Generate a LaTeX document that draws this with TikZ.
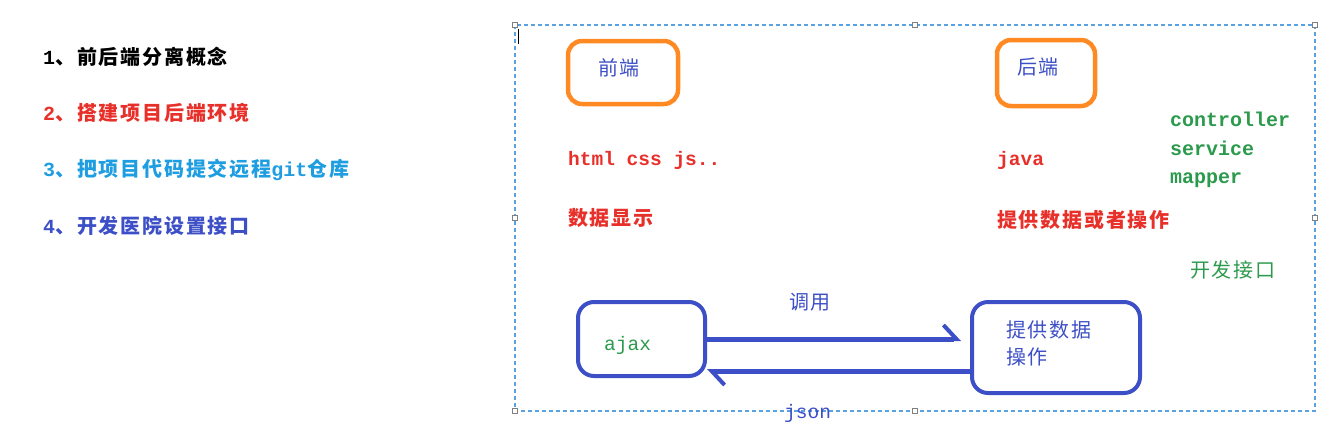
\documentclass[tikz,border=0pt]{standalone}
\usepackage{fontspec}
\setmainfont{Liberation Mono}
\newfontfamily\cjk{Noto Sans CJK SC}[LetterSpace=9]
\usetikzlibrary{arrows.meta, positioning, calc}
\definecolor{itemred}{HTML}{E8302A}
\definecolor{itemcyan}{HTML}{1E9EE0}
\definecolor{itemblue}{HTML}{3D4FC6}
\definecolor{boxorange}{HTML}{FF8A24}
\definecolor{txtgreen}{HTML}{2C9A4C}
\definecolor{framecol}{HTML}{5AA2E2}

\begin{document}
\begin{tikzpicture}[x=1pt, y=-1pt,
	item/.style={anchor=west, inner sep=0pt, font=\cjk\bfseries\fontsize{20}{24}\selectfont},
	zh/.style={anchor=west, inner sep=0pt, font=\cjk\fontsize{20}{27}\selectfont},
	code/.style={anchor=west, inner sep=0pt, font=\bfseries\fontsize{19.5}{24}\selectfont},
	obox/.style={draw=boxorange, line width=4.5pt, rounded corners=14pt},
	bbox/.style={draw=itemblue, line width=4pt, rounded corners=16pt},
	flow/.style={draw=itemblue, line width=5pt, -{Straight Barb[harpoon, length=13pt, width=28pt, line width=4pt]}},
	handle/.style={draw=gray, fill=white, line width=0.6pt, minimum size=5pt, inner sep=0pt}]
	\useasboundingbox (0,0) rectangle (1331,424);

	% task list
	\node[item] (t1) at (43,57) {{\rmfamily 1}、前后端分离概念};
	\node[item, itemred] (t2) at (43,113) {{\rmfamily 2}、搭建项目后端环境};
	\node[item, itemcyan] (t3) at (43,170) {{\rmfamily 3}、把项目代码提交远程{\rmfamily git}仓库};
	\node[item, itemblue] (t4) at (43,226) {{\rmfamily 4}、开发医院设置接口};

	% selection frame
	\draw[framecol, line width=1.2pt, dash pattern=on 4pt off 3pt] (515,25) rectangle (1315,411);
	\foreach \hx/\hy in {515/25, 915/25, 1315/25, 515/218, 1315/218, 515/411, 915/411}
		\node[handle] at (\hx,\hy) {};
	\draw[black, line width=1pt] (518,29) -- (518,44);

	% front end / back end
	\node[obox, minimum width=110pt, minimum height=63pt] (front) at (623,72.5) {};
	\node[zh, itemblue] (fronttxt) at (598,68) {前端};
	\node[obox, minimum width=98pt, minimum height=66pt] (back) at (1046,73) {};
	\node[zh, itemblue] (backtxt) at (1017,67) {后端};

	\node[code, itemred] (fetech) at (568,160) {html css js..};
	\node[zh, itemred, font=\cjk\bfseries\fontsize{20}{24}\selectfont] (show) at (568,218) {数据显示};
	\node[code, itemred] (betech) at (997,160) {java};
	\node[zh, itemred, font=\cjk\bfseries\fontsize{20}{24}\selectfont] (offer) at (997,220) {提供数据或者操作};

	\node[code, txtgreen, align=left, font=\bfseries\fontsize{20}{28.5}\selectfont] (layers) at (1170,150) {controller\\service\\mapper};
	\node[zh, txtgreen] (api) at (1190,270) {开发接口};

	% call flow
	\node[bbox, minimum width=127pt, minimum height=74pt] (ajax) at (641.5,339) {};
	\node[code, txtgreen, font=\fontsize{19.5}{24}\selectfont] (ajaxtxt) at (604,345) {ajax};
	\node[bbox, minimum width=168pt, minimum height=91pt] (data) at (1056,347.5) {};
	\node[zh, itemblue, align=left] (datatxt) at (1006,343.5) {提供数据\\操作};

	\draw[flow, shorten >=9pt] (ajax.east) -- (ajax.east -| data.west);
	\coordinate (back1) at ([yshift=-23.5pt]data.west);
	\draw[flow] (back1) -- (back1 -| ajax.east);
	\node[zh, itemblue] (call) at (789,302) {调用};
	\node[code, itemblue, font=\fontsize{19.5}{24}\selectfont] (json) at (784,413) {json};
\end{tikzpicture}
\end{document}
